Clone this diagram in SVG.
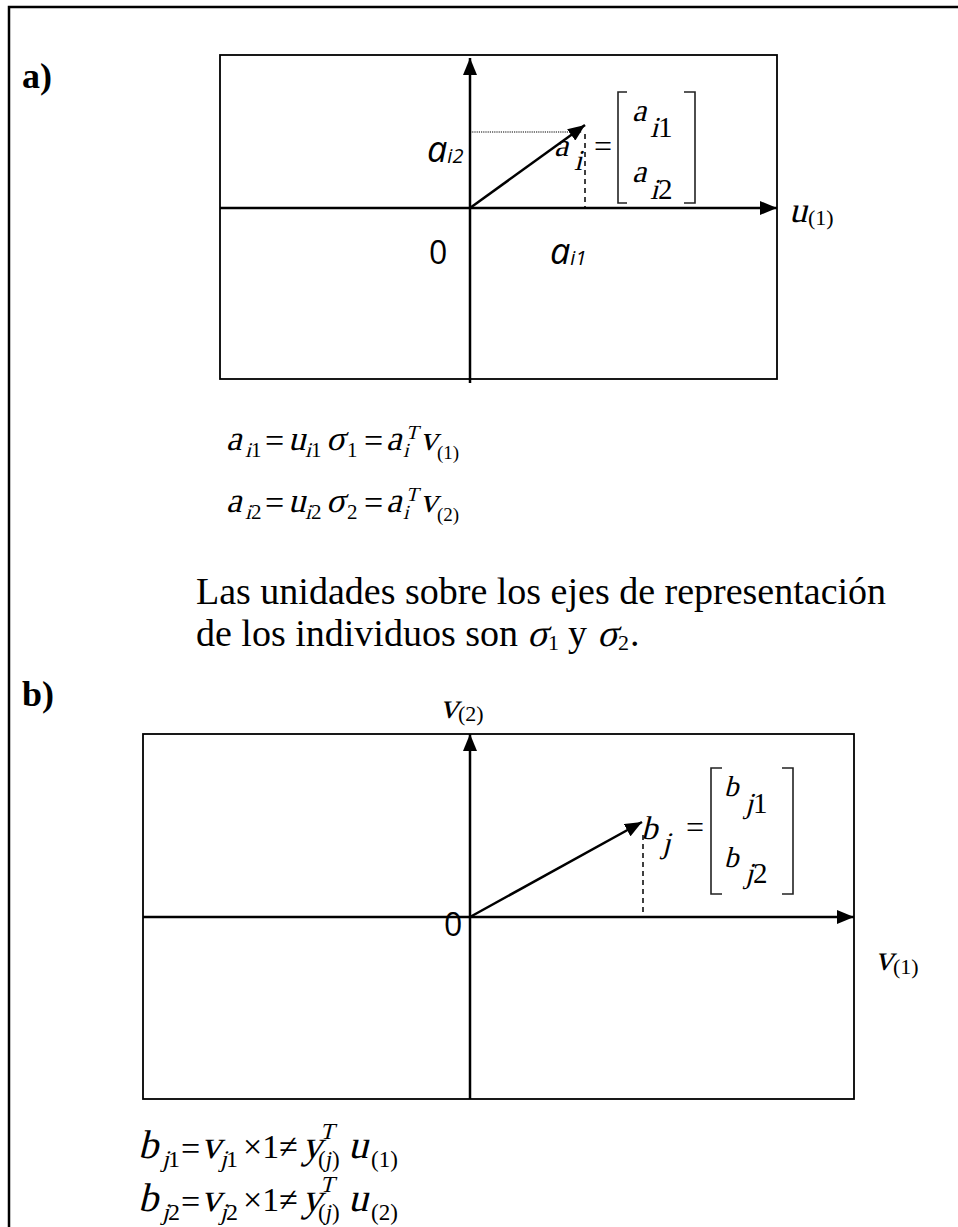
<svg xmlns="http://www.w3.org/2000/svg" width="958" height="1227" viewBox="0 0 958 1227">
<style>
.frame{fill:none;stroke:#000;stroke-width:2.5}
.box{fill:none;stroke:#000;stroke-width:1.8}
.axis{fill:none;stroke:#000;stroke-width:2.5}
.dash{fill:none;stroke:#000;stroke-width:1.5;stroke-dasharray:5,4}
.dot{fill:none;stroke:#000;stroke-width:1.2;stroke-dasharray:1.2,1}
.brk{fill:none;stroke:#222;stroke-width:1.6}
.tr{font-family:"Liberation Serif","Times New Roman",serif;font-style:normal;fill:#000}
.tb{font-family:"Liberation Serif","Times New Roman",serif;font-weight:bold;fill:#000}
.sa{font-family:"Open Sans","Noto Sans",sans-serif;fill:#000}
.si{font-family:"Open Sans","Noto Sans",sans-serif;font-style:italic;fill:#000}
</style>
<defs>
<marker id="ah" markerUnits="userSpaceOnUse" markerWidth="18" markerHeight="14" refX="17" refY="7" orient="auto">
<path d="M0,0 L17,7 L0,14 z" fill="#000"/>
</marker>
</defs>

<path class="frame" d="M9,1227 V7 H958"/>

<g id="label-a"><text class="tb" x="22" y="88" font-size="36">a)</text></g>

<g id="panel-a-box"><rect class="box" x="220" y="55" width="557" height="324"/></g>

<g id="connectors">
<line class="axis" x1="470" y1="383" x2="470" y2="58" marker-end="url(#ah)"/>
<line class="axis" x1="220" y1="208" x2="777" y2="208" marker-end="url(#ah)"/>
<line class="axis" x1="470" y1="208" x2="585" y2="125" marker-end="url(#ah)"/>
<line class="dot" x1="470" y1="132" x2="582" y2="132"/>
<line class="dash" x1="585" y1="134" x2="585" y2="208"/>

<line class="axis" x1="470" y1="1099" x2="470" y2="734" marker-end="url(#ah)"/>
<line class="axis" x1="143" y1="917" x2="854" y2="917" marker-end="url(#ah)"/>
<line class="axis" x1="470" y1="917" x2="642" y2="822" marker-end="url(#ah)"/>
<line class="dash" x1="643" y1="835" x2="643" y2="914"/>
</g>

<g id="panel-a-labels">
<text class="si" x="427" y="162" font-size="36">a<tspan font-size="20" dy="1">i2</tspan></text>
<text class="sa" x="429" y="264" font-size="32">0</text>
<text class="si" x="550" y="264" font-size="36">a<tspan font-size="20" dy="1">i1</tspan></text>
<text class="tr" transform="translate(789,222) skewX(-14)" font-size="36">u</text>
<text class="tr" x="808" y="225" font-size="22">(1)</text>
</g>

<g id="vector-a">
<text class="tr" transform="translate(554,156) skewX(-14)" font-size="32">a</text>
<text class="tr" transform="translate(574,170) skewX(-14)" font-size="29">i</text>
<text class="tr" x="594" y="157" font-size="32">=</text>
<path class="brk" d="M627,92 H618 V203 H627"/>
<path class="brk" d="M684,92 H695 V203 H684"/>
<text class="tr" transform="translate(632,121) skewX(-14)" font-size="32">a</text>
<text class="tr" transform="translate(650,137) skewX(-14)" font-size="29">i</text>
<text class="tr" x="658" y="137" font-size="29">1</text>
<text class="tr" transform="translate(632,182) skewX(-14)" font-size="32">a</text>
<text class="tr" transform="translate(650,199) skewX(-14)" font-size="29">i</text>
<text class="tr" x="658" y="199" font-size="29">2</text>
</g>

<g id="formulas-a">
<text class="tr" transform="translate(226,450) skewX(-14)" font-size="35">a</text>
<text class="tr" transform="translate(245,457) skewX(-14)" font-size="21">i</text>
<text class="tr" x="251" y="457" font-size="21">1</text>
<text class="tr" x="265" y="452" font-size="34">=</text>
<text class="tr" transform="translate(288,450) skewX(-14)" font-size="35">u</text>
<text class="tr" transform="translate(305,457) skewX(-14)" font-size="21">i</text>
<text class="tr" x="311" y="457" font-size="21">1</text>
<text class="tr" transform="translate(326,450) skewX(-14)" font-size="35">σ</text>
<text class="tr" x="347" y="457" font-size="21">1</text>
<text class="tr" x="364" y="452" font-size="34">=</text>
<text class="tr" transform="translate(386,450) skewX(-14)" font-size="35">a</text>
<text class="tr" transform="translate(403,457) skewX(-14)" font-size="20">i</text>
<text class="tr" transform="translate(406,439) skewX(-14)" font-size="20">T</text>
<text class="tr" transform="translate(420,450) skewX(-14)" font-size="35">v</text>
<text class="tr" x="437" y="459" font-size="19">(1)</text>

<text class="tr" transform="translate(226,512) skewX(-14)" font-size="35">a</text>
<text class="tr" transform="translate(245,519) skewX(-14)" font-size="21">i</text>
<text class="tr" x="251" y="519" font-size="21">2</text>
<text class="tr" x="265" y="514" font-size="34">=</text>
<text class="tr" transform="translate(288,512) skewX(-14)" font-size="35">u</text>
<text class="tr" transform="translate(305,519) skewX(-14)" font-size="21">i</text>
<text class="tr" x="311" y="519" font-size="21">2</text>
<text class="tr" transform="translate(326,512) skewX(-14)" font-size="35">σ</text>
<text class="tr" x="347" y="519" font-size="21">2</text>
<text class="tr" x="364" y="514" font-size="34">=</text>
<text class="tr" transform="translate(386,512) skewX(-14)" font-size="35">a</text>
<text class="tr" transform="translate(403,519) skewX(-14)" font-size="20">i</text>
<text class="tr" transform="translate(406,501) skewX(-14)" font-size="20">T</text>
<text class="tr" transform="translate(420,512) skewX(-14)" font-size="35">v</text>
<text class="tr" x="437" y="521" font-size="19">(2)</text>
</g>

<g id="caption">
<text class="tr" x="196" y="604" font-size="38">Las unidades sobre los ejes de representación</text>
<text class="tr" x="196" y="646" font-size="38">de los individuos son</text>
<text class="tr" transform="translate(527,646) skewX(-14)" font-size="38">σ</text>
<text class="tr" x="548" y="650" font-size="22">1</text>
<text class="tr" x="568" y="646" font-size="38">y</text>
<text class="tr" transform="translate(597,646) skewX(-14)" font-size="38">σ</text>
<text class="tr" x="618" y="650" font-size="22">2</text>
<text class="tr" x="630" y="646" font-size="38">.</text>
</g>

<g id="label-b"><text class="tb" x="22" y="706" font-size="36">b)</text></g>

<g id="panel-b-box"><rect class="box" x="143" y="734" width="711" height="365"/></g>

<g id="panel-b-labels">
<text class="tr" transform="translate(440,718) skewX(-14)" font-size="36">v</text>
<text class="tr" x="458" y="721" font-size="22">(2)</text>
<text class="sa" x="444" y="936" font-size="32">0</text>
<text class="tr" transform="translate(875,970) skewX(-14)" font-size="36">v</text>
<text class="tr" x="893" y="974" font-size="22">(1)</text>
</g>

<g id="vector-b">
<text class="tr" transform="translate(641,839) skewX(-14)" font-size="33">b</text>
<text class="tr" transform="translate(662,853) skewX(-14)" font-size="30">j</text>
<text class="tr" x="686" y="838" font-size="32">=</text>
<path class="brk" d="M722,768 H711 V894 H722"/>
<path class="brk" d="M782,768 H793 V894 H782"/>
<text class="tr" transform="translate(724,796) skewX(-14)" font-size="29">b</text>
<text class="tr" transform="translate(745,813) skewX(-14)" font-size="29">j</text>
<text class="tr" x="753" y="813" font-size="29">1</text>
<text class="tr" transform="translate(724,867) skewX(-14)" font-size="29">b</text>
<text class="tr" transform="translate(745,883) skewX(-14)" font-size="29">j</text>
<text class="tr" x="753" y="883" font-size="29">2</text>
</g>

<g id="formulas-b">
<text class="tr" transform="translate(138,1158) skewX(-14)" font-size="40">b</text>
<text class="tr" transform="translate(162,1167) skewX(-14)" font-size="24">j</text>
<text class="tr" x="168" y="1167" font-size="24">1</text>
<text class="tr" x="181" y="1160" font-size="34">=</text>
<text class="tr" transform="translate(201,1158) skewX(-14)" font-size="40">v</text>
<text class="tr" transform="translate(220,1167) skewX(-14)" font-size="24">j</text>
<text class="tr" x="226" y="1167" font-size="24">1</text>
<text class="tr" x="243" y="1158" font-size="34">×1≠</text>
<text class="tr" transform="translate(302,1158) skewX(-14)" font-size="40">y</text>
<text class="tr" transform="translate(320,1139) skewX(-14)" font-size="23">T</text>
<text class="tr" x="318" y="1167" font-size="23">(<tspan font-style="italic">j</tspan>)</text>
<text class="tr" transform="translate(348,1158) skewX(-14)" font-size="40">u</text>
<text class="tr" x="371" y="1167" font-size="23">(1)</text>

<text class="tr" transform="translate(138,1211) skewX(-14)" font-size="40">b</text>
<text class="tr" transform="translate(162,1220) skewX(-14)" font-size="24">j</text>
<text class="tr" x="168" y="1220" font-size="24">2</text>
<text class="tr" x="181" y="1213" font-size="34">=</text>
<text class="tr" transform="translate(201,1211) skewX(-14)" font-size="40">v</text>
<text class="tr" transform="translate(220,1220) skewX(-14)" font-size="24">j</text>
<text class="tr" x="226" y="1220" font-size="24">2</text>
<text class="tr" x="243" y="1211" font-size="34">×1≠</text>
<text class="tr" transform="translate(302,1211) skewX(-14)" font-size="40">y</text>
<text class="tr" transform="translate(320,1192) skewX(-14)" font-size="23">T</text>
<text class="tr" x="318" y="1220" font-size="23">(<tspan font-style="italic">j</tspan>)</text>
<text class="tr" transform="translate(348,1211) skewX(-14)" font-size="40">u</text>
<text class="tr" x="371" y="1220" font-size="23">(2)</text>
</g>
</svg>
